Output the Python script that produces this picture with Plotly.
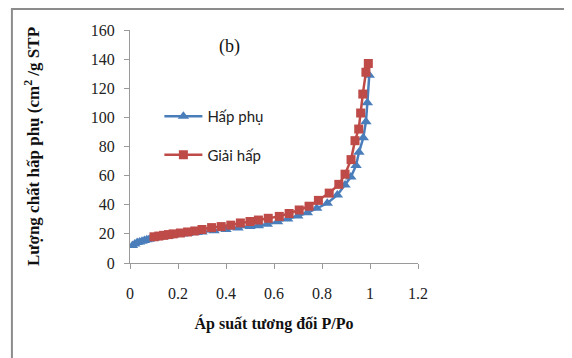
import plotly.graph_objects as go

# Adsorption (Hấp phụ)
ads_x = [0.01, 0.02, 0.03, 0.04, 0.05, 0.06, 0.07, 0.08, 0.10, 0.12, 0.14, 0.16, 0.18, 0.20,
         0.22, 0.24, 0.26, 0.28, 0.30, 0.35, 0.40, 0.45, 0.50, 0.535, 0.572, 0.615, 0.657,
         0.699, 0.739, 0.778, 0.822, 0.864, 0.896, 0.92, 0.942, 0.954, 0.972, 0.983, 0.989, 0.997]
ads_y = [12, 13, 14, 14.5, 15, 15.5, 16, 16.3, 17, 17.5, 18, 18.5, 19, 19.5,
         20, 20.3, 20.7, 21, 21.3, 22.2, 23, 24, 25, 25.6, 26.6, 28.4, 30.2,
         32.3, 34.5, 37.6, 41, 46.7, 53.6, 59, 67, 76, 86, 97, 110, 129]

# Desorption (Giải hấp)
des_x = [0.993, 0.983, 0.97, 0.961, 0.953, 0.9375, 0.921, 0.896, 0.87, 0.83, 0.785, 0.746,
         0.705, 0.663, 0.622, 0.576, 0.535, 0.50, 0.46, 0.42, 0.38, 0.34, 0.30, 0.27, 0.24,
         0.21, 0.18, 0.16, 0.14, 0.12, 0.10]
des_y = [137, 131, 116, 103, 92, 84, 71, 61, 54, 48, 43, 39,
         36.4, 34, 32, 30.7, 29.5, 28.5, 27.5, 26, 25, 24.3, 23, 22, 21.3,
         20.6, 20, 19.5, 19, 18.5, 18]

x_ticks = [0, 0.2, 0.4, 0.6, 0.8, 1, 1.2]
x_ticklabels = ["0", "0.2", "0.4", "0.6", "0.8", "1", "1.2"]
y_ticks = [0, 20, 40, 60, 80, 100, 120, 140, 160]

fig = go.Figure()
fig.add_trace(go.Scatter(
    x=ads_x, y=ads_y, mode="lines+markers", name="Hấp phụ", legendgroup="a",
    line=dict(color="#4A7EBB", width=2.5),
    marker=dict(symbol="triangle-up", size=10, color="#4A7EBB"),
))
fig.add_trace(go.Scatter(
    x=des_x, y=des_y, mode="lines+markers", name="Giải hấp", legendgroup="b",
    line=dict(color="#BE4B48", width=2.5),
    marker=dict(symbol="square", size=9, color="#BE4B48"),
))

axis_font = dict(family="Liberation Serif", size=16, color="#222")
title_font = dict(family="Liberation Serif", size=16, color="#111")

fig.update_layout(
    width=572, height=358,
    margin=dict(l=122, r=162, t=22, b=103, autoexpand=False),
    paper_bgcolor="white", plot_bgcolor="white",
    showlegend=True,
    legend=dict(
        x=0.102, y=0.70, xanchor="left", yanchor="top",
        bgcolor="rgba(0,0,0,0)",
        font=dict(family="Lato", size=15, color="#222"),
        traceorder="grouped", tracegroupgap=16, itemwidth=38,
    ),
    xaxis=dict(
        range=[0, 1.2], tickvals=x_ticks, ticktext=x_ticklabels,
        showgrid=False, zeroline=False, showline=True, linecolor="#9a9a9a", linewidth=1,
        ticks="outside", ticklen=5, tickcolor="#9a9a9a",
        tickfont=axis_font, ticklabelstandoff=11,
        title=dict(text="<b>Áp suất tương đối P/Po</b>", font=title_font, standoff=16),
    ),
    yaxis=dict(
        range=[0, 160], tickvals=y_ticks,
        showgrid=False, zeroline=False, showline=True, linecolor="#9a9a9a", linewidth=1,
        ticks="outside", ticklen=5, tickcolor="#9a9a9a",
        tickfont=axis_font, ticklabelstandoff=6,
        title=dict(text="<b>Lượng chất hấp phụ (cm<sup>2</sup> /g STP</b>",
                   font=dict(family="Liberation Serif", size=17, color="#111"), standoff=46),
    ),
    annotations=[dict(
        text="(b)", x=0.347, y=0.983, xref="paper", yref="paper", showarrow=False,
        font=dict(family="Liberation Serif", size=18, color="#111"),
    )],
    shapes=[dict(
        type="rect", xref="paper", yref="paper",
        x0=-0.41, x1=1.7, y0=-0.6, y1=1.09,
        line=dict(color="#8c8c8c", width=2), fillcolor="rgba(0,0,0,0)", layer="below",
    )],
)

fig.write_html("out.html")
